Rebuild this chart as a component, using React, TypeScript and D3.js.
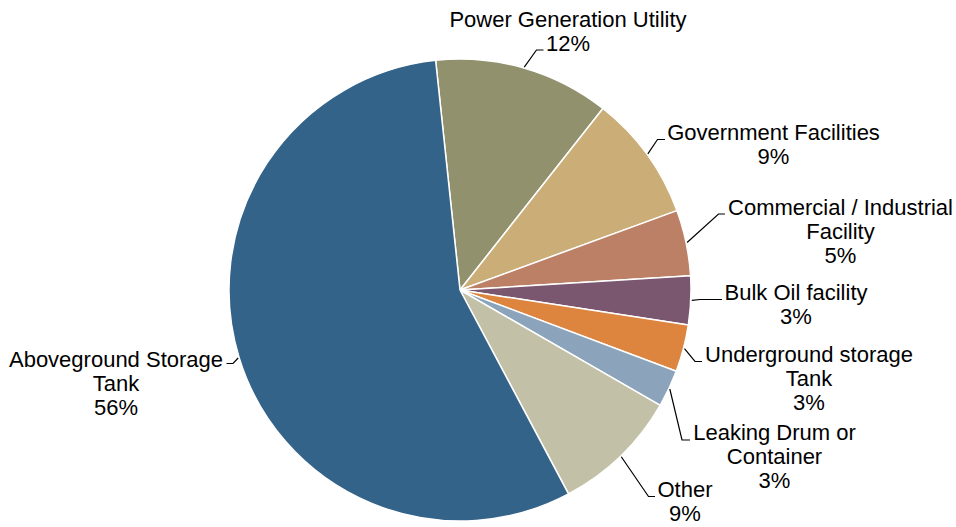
import React from "react";
import * as d3 from "d3";

const categories = [
  "Power Generation Utility",
  "Government Facilities",
  "Commercial / Industrial Facility",
  "Bulk Oil facility",
  "Underground storage Tank",
  "Leaking Drum or Container",
  "Other",
  "Aboveground Storage Tank",
];
const values = [12.3, 8.8, 4.6, 3.4, 3.3, 2.6, 8.9, 56.1];
const colors = [
  "#91916d",
  "#cbad78",
  "#bb8065",
  "#7b566f",
  "#dd843f",
  "#8ba4bc",
  "#c2c0a7",
  "#346389",
];
const labelLines = [
  ["Power Generation Utility"],
  ["Government Facilities"],
  ["Commercial / Industrial", "Facility"],
  ["Bulk Oil facility"],
  ["Underground storage", "Tank"],
  ["Leaking Drum or", "Container"],
  ["Other"],
  ["Aboveground Storage", "Tank"],
];

// layout: label center x, first baseline, leader elbow, leader end
const labelLayout = [
  { cx: 568, y: 26.5, ex: 536.5, ey: 50, endX: 543.5 },
  { cx: 773.5, y: 139.5, ex: 657.5, ey: 139.5, endX: 665 },
  { cx: 840.5, y: 215, ex: 718.5, ey: 214, endX: 725 },
  { cx: 796, y: 300, ex: 700, ey: 299.5, endX: 722 },
  { cx: 809, y: 362, ex: 695, ey: 361.5, endX: 702 },
  { cx: 774.5, y: 440, ex: 682, ey: 440, endX: 690 },
  { cx: 685, y: 497, ex: 648.5, ey: 496.5, endX: 655 },
  { cx: 116, y: 366.5, ex: 233, ey: 363.5, endX: 226.5 },
];

const W = 956;
const H = 527;
const CX = 460;
const CY = 290;
const R = 231;
const START = (-6.06 * Math.PI) / 180;
const FONT = 22;
const LH = 24;

export default function App() {
  const pie = d3
    .pie<number>()
    .sort(null)
    .value((d) => d)
    .startAngle(START)
    .endAngle(START + 2 * Math.PI);
  const arcs = pie(values);
  const arc = d3.arc<d3.PieArcDatum<number>>().innerRadius(0).outerRadius(R);
  const total = d3.sum(values);

  return (
    <svg
      width={W}
      height={H}
      style={{ position: "absolute", left: 0, top: 0, background: "#fff" }}
      fontFamily="'Liberation Sans', Arial, sans-serif"
    >
      <g transform={`translate(${CX},${CY})`}>
        {arcs.map((a, i) => (
          <path
            key={i}
            d={arc(a) || ""}
            fill={colors[i]}
            stroke="#fff"
            strokeWidth={1.5}
            strokeLinejoin="round"
          />
        ))}
      </g>
      {arcs.map((a, i) => {
        const mid = (a.startAngle + a.endAngle) / 2;
        const sx = CX + (R + 1) * Math.sin(mid);
        const sy = CY - (R + 1) * Math.cos(mid);
        const L = labelLayout[i];
        const lines = [...labelLines[i], `${Math.round((values[i] / total) * 100)}%`];
        return (
          <g key={i}>
            <polyline
              points={`${sx},${sy} ${L.ex},${L.ey} ${L.endX},${L.ey}`}
              fill="none"
              stroke="#000"
              strokeWidth={1.2}
            />
            <text
              x={L.cx}
              y={L.y}
              textAnchor="middle"
              fontSize={FONT}
              fill="#000"
            >
              {lines.map((t, j) => (
                <tspan key={j} x={L.cx} y={L.y + j * LH}>
                  {t}
                </tspan>
              ))}
            </text>
          </g>
        );
      })}
    </svg>
  );
}
